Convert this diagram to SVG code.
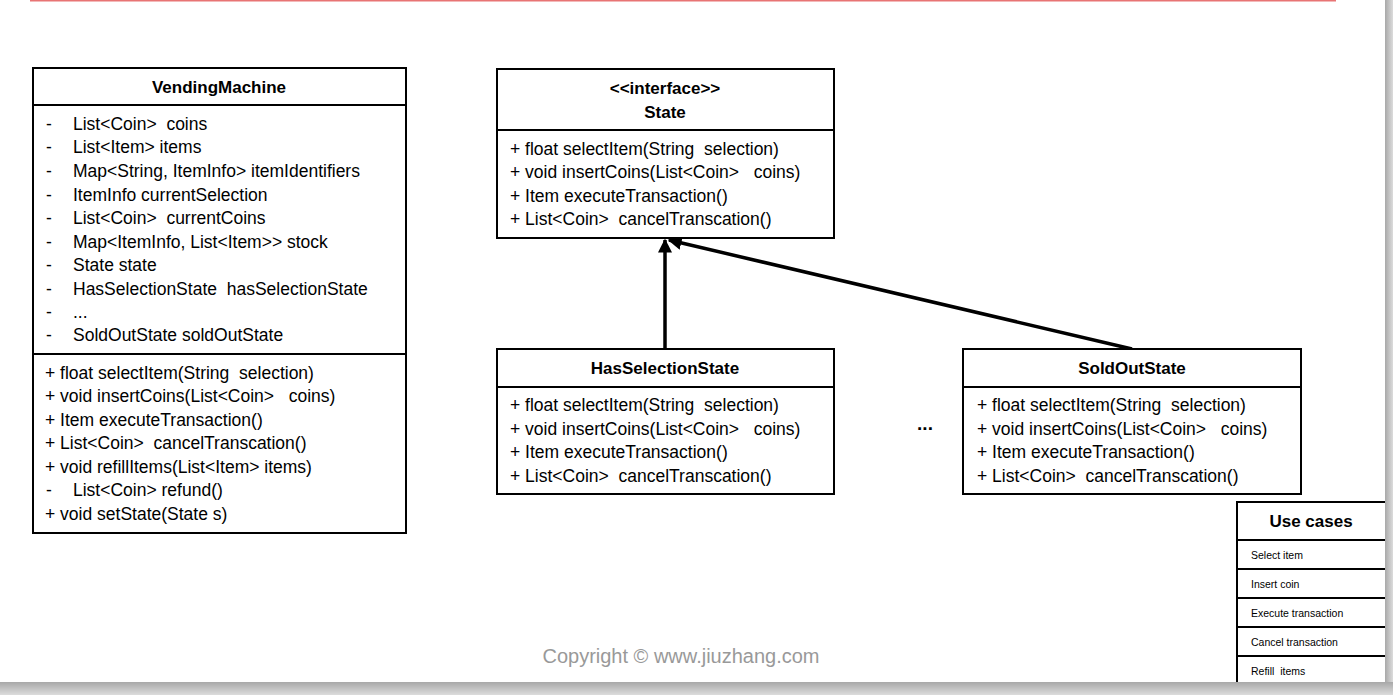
<svg xmlns="http://www.w3.org/2000/svg" width="1393" height="695" viewBox="0 0 1393 695">
<defs>
<style>
.box{fill:#fff;stroke:#000;stroke-width:2}
.div{stroke:#000;stroke-width:2}
text{white-space:pre}
.t{font-family:"Liberation Sans",Arial,sans-serif;font-size:17.5px;fill:#000}
.b{font-family:"Liberation Sans",Arial,sans-serif;font-size:17px;font-weight:bold;fill:#000}
.s{font-family:"Liberation Sans",Arial,sans-serif;font-size:10.5px;fill:#000}
.conn{stroke:#000;stroke-width:3.5;fill:none}
</style>
<marker id="ah" viewBox="0 0 10 10" refX="9" refY="5" markerWidth="4" markerHeight="4" orient="auto" markerUnits="strokeWidth">
<path d="M0,0 L10,5 L0,10 z" fill="#000"/>
</marker>
<linearGradient id="gr" x1="0" y1="0" x2="1" y2="0">
<stop offset="0" stop-color="#a8a8a8"/><stop offset="1" stop-color="#dcdcdc"/>
</linearGradient>
<linearGradient id="gb" x1="0" y1="0" x2="0" y2="1">
<stop offset="0" stop-color="#a8a8a8"/><stop offset="1" stop-color="#dcdcdc"/>
</linearGradient>
</defs>
<rect x="0" y="0" width="1393" height="695" fill="#fff"/>
<line x1="30" y1="0.5" x2="1336" y2="0.5" stroke="#e87474" stroke-width="2"/>

<g id="connectors">
<line class="conn" x1="665" y1="349" x2="665" y2="240" marker-end="url(#ah)"/>
<line class="conn" x1="1132" y1="349" x2="669" y2="240" marker-end="url(#ah)"/>
</g>

<g id="VendingMachine">
<rect class="box" x="33" y="68" width="373" height="465"/>
<line class="div" x1="33" y1="105" x2="406" y2="105"/>
<line class="div" x1="33" y1="354" x2="406" y2="354"/>
<text class="b" x="219" y="93" text-anchor="middle">VendingMachine</text>
<g class="t">
<text x="46" y="130">-</text><text x="73" y="130">List&lt;Coin&gt;  coins</text>
<text x="46" y="153">-</text><text x="73" y="153">List&lt;Item&gt; items</text>
<text x="46" y="177">-</text><text x="73" y="177">Map&lt;String, ItemInfo&gt; itemIdentifiers</text>
<text x="46" y="201">-</text><text x="73" y="201">ItemInfo currentSelection</text>
<text x="46" y="224">-</text><text x="73" y="224">List&lt;Coin&gt;  currentCoins</text>
<text x="46" y="248">-</text><text x="73" y="248">Map&lt;ItemInfo, List&lt;Item&gt;&gt; stock</text>
<text x="46" y="271">-</text><text x="73" y="271">State state</text>
<text x="46" y="295">-</text><text x="73" y="295">HasSelectionState  hasSelectionState</text>
<text x="46" y="318">-</text><text x="73" y="318">...</text>
<text x="46" y="341">-</text><text x="73" y="341">SoldOutState soldOutState</text>
<text x="45" y="379">+ float selectItem(String  selection)</text>
<text x="45" y="402">+ void insertCoins(List&lt;Coin&gt;   coins)</text>
<text x="45" y="426">+ Item executeTransaction()</text>
<text x="45" y="449">+ List&lt;Coin&gt;  cancelTranscation()</text>
<text x="45" y="473">+ void refillItems(List&lt;Item&gt; items)</text>
<text x="46" y="496">-</text><text x="73" y="496">List&lt;Coin&gt; refund()</text>
<text x="45" y="520">+ void setState(State s)</text>
</g>
</g>

<g id="State">
<rect class="box" x="497" y="69" width="337" height="169"/>
<line class="div" x1="497" y1="130" x2="834" y2="130"/>
<text class="b" x="665" y="94" text-anchor="middle">&lt;&lt;interface&gt;&gt;</text>
<text class="b" x="665" y="118" text-anchor="middle">State</text>
<g class="t">
<text x="510" y="155">+ float selectItem(String  selection)</text>
<text x="510" y="178">+ void insertCoins(List&lt;Coin&gt;   coins)</text>
<text x="510" y="202">+ Item executeTransaction()</text>
<text x="510" y="225">+ List&lt;Coin&gt;  cancelTranscation()</text>
</g>
</g>

<g id="HasSelectionState">
<rect class="box" x="497" y="349" width="337" height="145"/>
<line class="div" x1="497" y1="387" x2="834" y2="387"/>
<text class="b" x="665" y="374" text-anchor="middle">HasSelectionState</text>
<g class="t">
<text x="510" y="411">+ float selectItem(String  selection)</text>
<text x="510" y="435">+ void insertCoins(List&lt;Coin&gt;   coins)</text>
<text x="510" y="458">+ Item executeTransaction()</text>
<text x="510" y="482">+ List&lt;Coin&gt;  cancelTranscation()</text>
</g>
</g>

<g id="SoldOutState">
<rect class="box" x="963" y="349" width="338" height="145"/>
<line class="div" x1="963" y1="387" x2="1301" y2="387"/>
<text class="b" x="1132" y="374" text-anchor="middle">SoldOutState</text>
<g class="t">
<text x="977" y="411">+ float selectItem(String  selection)</text>
<text x="977" y="435">+ void insertCoins(List&lt;Coin&gt;   coins)</text>
<text x="977" y="458">+ Item executeTransaction()</text>
<text x="977" y="482">+ List&lt;Coin&gt;  cancelTranscation()</text>
</g>
</g>

<g id="ellipsis">
<text class="b" x="925" y="430" text-anchor="middle" style="font-size:19px">...</text>
</g>

<g id="UseCases">
<rect class="box" x="1237" y="502" width="160" height="200"/>
<line class="div" x1="1237" y1="540" x2="1393" y2="540"/>
<line class="div" x1="1237" y1="569" x2="1393" y2="569"/>
<line class="div" x1="1237" y1="598" x2="1393" y2="598"/>
<line class="div" x1="1237" y1="627" x2="1393" y2="627"/>
<line class="div" x1="1237" y1="656" x2="1393" y2="656"/>
<text class="b" x="1311" y="527" text-anchor="middle" style="font-size:17px">Use cases</text>
<text class="s" x="1251" y="559">Select item</text>
<text class="s" x="1251" y="588">Insert coin</text>
<text class="s" x="1251" y="617">Execute transaction</text>
<text class="s" x="1251" y="646">Cancel transaction</text>
<text class="s" x="1251" y="675">Refill  items</text>
</g>

<text x="681" y="663" text-anchor="middle" style="font-family:'Liberation Sans',Arial,sans-serif;font-size:20px;fill:#999">Copyright © www.jiuzhang.com</text>

<rect x="1385" y="0" width="8" height="695" fill="url(#gr)"/>
<rect x="0" y="682" width="1393" height="13" fill="url(#gb)"/>
</svg>
